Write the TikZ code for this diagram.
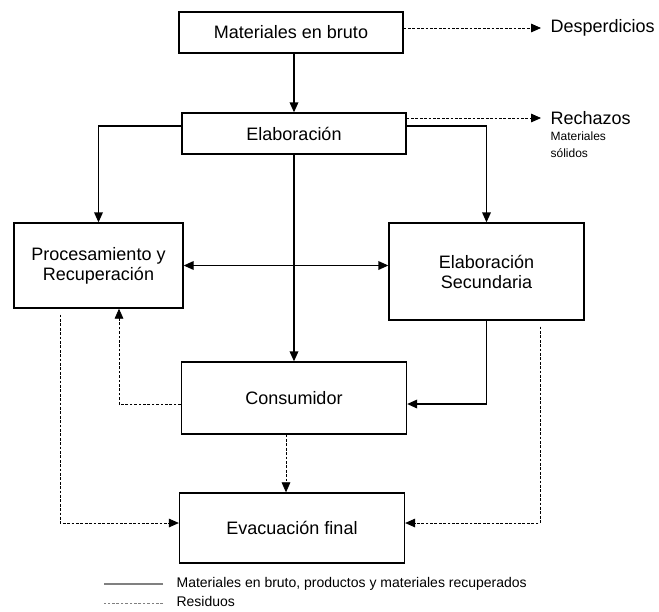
\documentclass[tikz,border=0pt]{standalone}
\usepackage{fontspec}
\setmainfont{Liberation Sans}
\usetikzlibrary{arrows.meta,positioning,calc}
\tikzset{
  caja/.style={draw,line width=1pt,inner sep=2pt,align=center,
    font=\fontsize{13.5}{15}\selectfont},
  flecha/.style={line width=1pt,-{Triangle[length=7.5pt,width=6.5pt]}},
  resid/.style={line width=0.6pt,dash pattern=on 2pt off 1.3pt,
    -{Triangle[length=7.5pt,width=6.5pt]}},
  etiq/.style={anchor=west,inner sep=1pt,font=\fontsize{13.5}{15}\selectfont},
  chico/.style={anchor=west,inner sep=1pt,align=left,
    font=\fontsize{9}{12.5}\selectfont},
  ley/.style={anchor=west,inner sep=1pt,font=\fontsize{10.5}{12}\selectfont},
}
\begin{document}
\begin{tikzpicture}[x=0.75pt,y=-0.75pt]
  \useasboundingbox (0,0) rectangle (659,611);
  % cajas
  \node[caja,minimum width=168pt,minimum height=30.75pt] (bruto) at (291,32.5) {Materiales en bruto};
  \node[caja,minimum width=168pt,minimum height=30.75pt] (elab) at (294,133.5) {Elaboración};
  \node[caja,minimum width=126.75pt,minimum height=63.75pt] (proc) at (98.5,265.5) {Procesamiento y\\ Recuperación};
  \node[caja,minimum width=146.25pt,minimum height=72.75pt] (sec) at (486.5,271.5) {Elaboración\\ Secundaria};
  \node[caja,minimum width=168.75pt,minimum height=54pt] (cons) at (294,398) {Consumidor};
  \node[caja,minimum width=168.75pt,minimum height=52.5pt] (evac) at (292,528) {Evacuación final};
  % salidas a la derecha
  \node[etiq] (desp) at (549,28) {Desperdicios};
  \node[etiq] (rech) at (549,118) {Rechazos};
  \node[chico,below=3pt of rech.south west,anchor=north west] (sol) {Materiales\\ sólidos};
  % flujos de materiales
  \draw[flecha] (bruto.south -| elab.north) -- (elab.north);
  \draw[flecha] ($(elab.west)+(0,-7.5)$) -| (proc.north);
  \draw[flecha] ($(elab.east)+(0,-7.5)$) -| (sec.north);
  \draw[flecha] (elab.south) -- (cons.north);
  \draw[line width=1pt,{Triangle[length=7.5pt,width=6.5pt]}-{Triangle[length=7.5pt,width=6.5pt]}]
    (proc.east) -- (proc.east -| sec.west);
  \draw[flecha] (sec.south) |- ($(cons.east)+(0,6)$);
  % residuos
  \draw[resid] (bruto.east |- desp.west) -- ($(desp.west)+(-8,0)$);
  \draw[resid] (elab.east |- rech.west) -- ($(rech.west)+(-8,0)$);
  \draw[resid] ($(cons.west)+(0,6)$) -| ($(proc.south)+(20.5,0)$);
  \draw[resid] ($(cons.south)+(-8,0)$) -- ($(evac.north)+(-6,0)$);
  \draw[resid] ($(proc.south)+(-38.5,6)$) |- ($(evac.west)+(0,-5)$);
  \draw[resid] ($(sec.south)+(53.5,6)$) |- ($(evac.east)+(0,-5)$);
  % leyenda
  \node[ley] (l1) at (175,584) {Materiales en bruto, productos y materiales recuperados};
  \node[ley] (l2) at (175,601) {Residuos};
  \draw[line width=1pt,gray] ($(l1.west)+(-12,0)$) -- ++(-59,0);
  \draw[line width=0.6pt,gray,dash pattern=on 2pt off 1.3pt] ($(l2.west)+(-12,2)$) -- ++(-59,0);
\end{tikzpicture}
\end{document}
